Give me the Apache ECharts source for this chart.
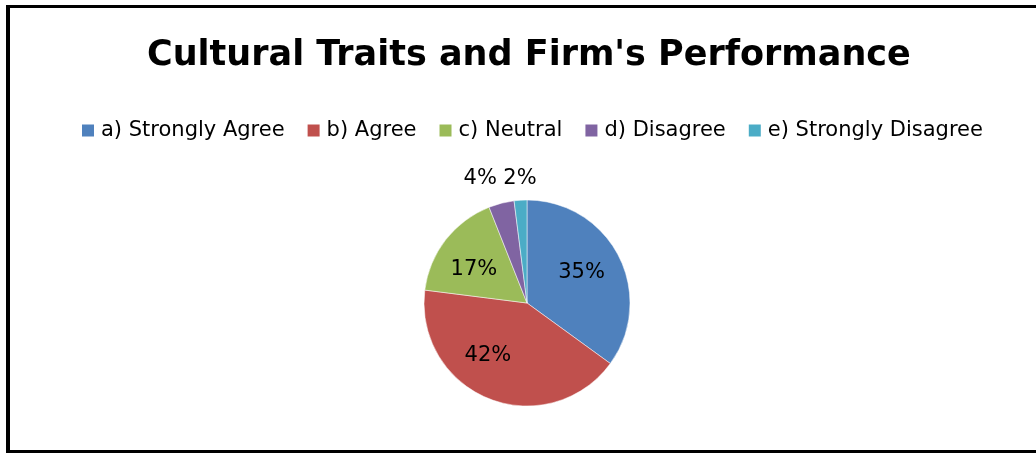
<!DOCTYPE html>
<html>
<head>
<meta charset="utf-8">
<script src="https://cdn.jsdelivr.net/npm/echarts@6/dist/echarts.min.js"></script>
<style>
  html, body { margin: 0; padding: 0; background: #fff; overflow: hidden; }
  #frame {
    position: absolute; left: 6px; top: 5px; width: 1040px; height: 442px;
    border-left: 4px solid #000; border-top: 3px solid #000; border-bottom: 3px solid #000;
    box-sizing: content-box;
  }
  #chart { position: absolute; left: 0; top: 0; width: 1036px; height: 453px; }
</style>
</head>
<body>
<div id="frame"></div>
<div id="chart"></div>
<script>
// Survey responses on cultural traits vs. firm performance (percent)
const categories = ['a) Strongly Agree', 'b) Agree', 'c) Neutral', 'd) Disagree', 'e) Strongly Disagree'];
const shares = [35, 42, 17, 4, 2];
const sliceColors = ['#4F81BD', '#C0504D', '#9BBB59', '#8064A2', '#4BACC6'];

// Small slices carry their label outside the pie
const outsideLabel = [false, false, false, true, true];
// Nudges for label placement
const labelNudge = [[6, -6], [-19, 2], [-10, 0], [-1, -11], [17, -8]];

const FONT = '"DejaVu Sans", sans-serif';

const chart = echarts.init(document.getElementById('chart'), null, { renderer: 'canvas' });

chart.setOption({
  backgroundColor: 'transparent',
  animation: false,
  title: {
    text: "Cultural Traits and Firm's Performance",
    left: 142,
    top: 33,
    textStyle: { fontFamily: FONT, fontWeight: 'bold', fontSize: 35, color: '#000' }
  },
  legend: {
    top: 115,
    left: 75,
    itemWidth: 14,
    itemHeight: 14,
    itemGap: 21,
    icon: 'rect',
    textStyle: { fontFamily: FONT, fontSize: 21, color: '#000', padding: [0, 0, 0, 1] },
    data: categories
  },
  series: [{
    type: 'pie',
    center: [527, 303],
    radius: 103,
    startAngle: 90,
    clockwise: true,
    avoidLabelOverlap: false,
    itemStyle: { borderColor: '#fff', borderWidth: 0.5 },
    label: {
      position: 'inside',
      formatter: '{c}%',
      fontFamily: FONT,
      fontSize: 21,
      color: '#000'
    },
    labelLine: { show: false },
    labelLayout: function (p) {
      const n = labelNudge[p.dataIndex];
      return { dx: n[0], dy: n[1] };
    },
    data: categories.map((name, i) => ({
      name: name,
      value: shares[i],
      itemStyle: { color: sliceColors[i] },
      label: outsideLabel[i] ? { position: 'outside', distanceToLabelLine: 0 } : undefined,
      labelLine: outsideLabel[i] ? { show: false, length: 14, length2: 0 } : undefined
    }))
  }]
});
</script>
</body>
</html>
